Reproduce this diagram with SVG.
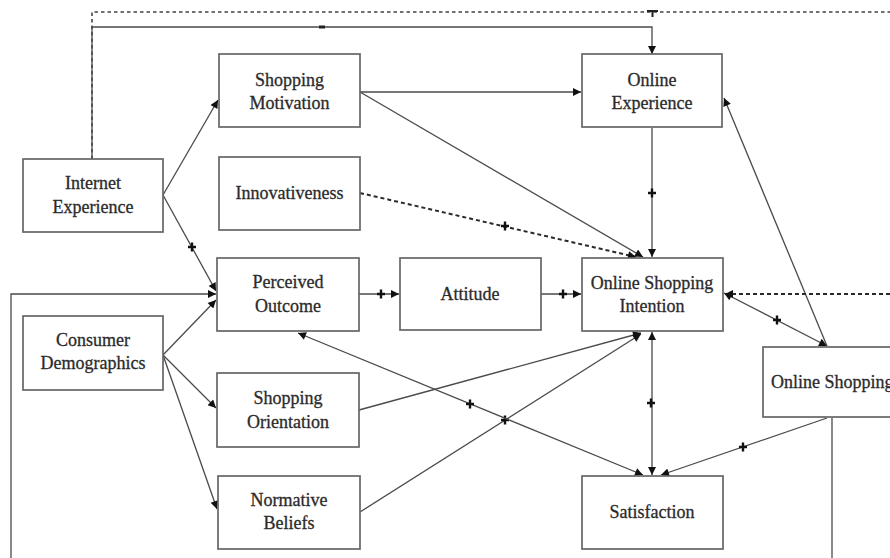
<svg xmlns="http://www.w3.org/2000/svg" xmlns:xlink="http://www.w3.org/1999/xlink" width="890" height="558" viewBox="0 0 890 558">
  <style>
    .box { fill: #ffffff; stroke: #666666; stroke-width: 1.7; }
    .lbl { font-family: "Liberation Serif", "Times New Roman", serif; font-size: 18px; fill: #2b2b2b; stroke: #2b2b2b; stroke-width: 0.3; text-anchor: middle; }
    .lbl-start { text-anchor: start; }
    .ln { fill: none; stroke: #4a4a4a; stroke-width: 1.3; }
    .dash { fill: none; stroke: #2a2a2a; stroke-width: 2; stroke-dasharray: 4 3; }
    .dash-thin { fill: none; stroke: #444444; stroke-width: 1.6; stroke-dasharray: 3.5 3; }
    .arr { marker-end: url(#head); }
    .arr2 { marker-start: url(#head); marker-end: url(#head); }
  </style>
  <defs>
    <marker id="head" viewBox="0 0 10 10" refX="10" refY="5" markerWidth="11" markerHeight="8" markerUnits="userSpaceOnUse" orient="auto-start-reverse">
      <path d="M0,0 L10,5 L0,10 z" fill="#111111"/>
    </marker>
    <path id="plus" d="M-4,0H4M0,-4.5V4.5" stroke="#111111" stroke-width="2.4" fill="none"/>
  </defs>

  <rect width="890" height="558" fill="#ffffff"/>

  <g id="connectors">
    <!-- feedback lines across the top -->
    <path class="dash-thin" d="M92,159 V12 H890"/>
    <path class="ln arr" d="M92,159 V27 H652 V54"/>
    <rect x="319" y="25.5" width="6" height="3" fill="#222"/>
    <path d="M647,11 H658 M652.5,11 V17" stroke="#222" stroke-width="2" fill="none"/>

    <!-- Shopping Motivation -->
    <path class="ln arr" d="M360,92 H581"/>
    <path class="ln arr" d="M360,92 L643,257"/>

    <!-- Innovativeness (dashed) -->
    <path class="dash arr" d="M360,193 L636,257"/>
    <use href="#plus" x="505" y="226"/>

    <!-- Online Experience to Intention -->
    <path class="ln arr" d="M652,128 V257"/>
    <use href="#plus" x="652" y="193"/>

    <!-- Internet Experience -->
    <path class="ln arr" d="M163,195 L218,100"/>
    <path class="ln arr" d="M163,195 L216,291"/>
    <use href="#plus" x="192" y="247"/>

    <!-- left loop into Perceived Outcome -->
    <path class="ln arr" d="M11,558 V294 H216"/>

    <!-- Consumer Demographics -->
    <path class="ln arr" d="M163,355 L216,300"/>
    <path class="ln arr" d="M163,355 L216,408"/>
    <path class="ln arr" d="M163,355 L217,509"/>

    <!-- middle row -->
    <path class="ln arr" d="M359,294 H399"/>
    <use href="#plus" x="381" y="294"/>
    <path class="ln arr" d="M541,294 H581"/>
    <use href="#plus" x="563" y="294"/>

    <!-- into Intention from below -->
    <path class="ln arr" d="M359,410 L641,333"/>
    <path class="ln arr" d="M360,512 L641,334"/>
    <use href="#plus" x="505" y="420"/>

    <!-- Perceived Outcome and Satisfaction -->
    <path class="ln arr2" d="M298,333 L643,475"/>
    <use href="#plus" x="470" y="404"/>

    <!-- Intention and Satisfaction -->
    <path class="ln arr2" d="M652,332 V475"/>
    <use href="#plus" x="651" y="403"/>

    <!-- Online Shopping links -->
    <path class="ln arr2" d="M724,293 L827,346"/>
    <use href="#plus" x="777" y="320"/>
    <path class="ln arr" d="M827,346 L724,98"/>
    <path class="dash arr" d="M890,294 H725"/>
    <path class="ln arr" d="M827,418 L661,475"/>
    <use href="#plus" x="743" y="447"/>
    <path class="ln" d="M832,418 V558"/>
  </g>

  <g id="shopping-motivation">
    <rect class="box" x="219" y="54" width="141" height="73"/>
    <text class="lbl" x="289.5" y="86">Shopping</text>
    <text class="lbl" x="289.5" y="109">Motivation</text>
  </g>

  <g id="online-experience">
    <rect class="box" x="582" y="54" width="140" height="73"/>
    <text class="lbl" x="652" y="86">Online</text>
    <text class="lbl" x="652" y="109">Experience</text>
  </g>

  <g id="internet-experience">
    <rect class="box" x="23" y="159" width="140" height="73"/>
    <text class="lbl" x="93" y="189">Internet</text>
    <text class="lbl" x="93" y="213">Experience</text>
  </g>

  <g id="innovativeness">
    <rect class="box" x="219" y="157" width="141" height="73"/>
    <text class="lbl" x="289.5" y="199">Innovativeness</text>
  </g>

  <g id="perceived-outcome">
    <rect class="box" x="217" y="258" width="142" height="73"/>
    <text class="lbl" x="288" y="288">Perceived</text>
    <text class="lbl" x="288" y="312">Outcome</text>
  </g>

  <g id="attitude">
    <rect class="box" x="400" y="258" width="141" height="72"/>
    <text class="lbl" x="470" y="300">Attitude</text>
  </g>

  <g id="online-shopping-intention">
    <rect class="box" x="582" y="258" width="141" height="73"/>
    <text class="lbl" x="652" y="289">Online Shopping</text>
    <text class="lbl" x="652" y="312">Intention</text>
  </g>

  <g id="consumer-demographics">
    <rect class="box" x="23" y="316" width="140" height="74"/>
    <text class="lbl" x="93" y="346">Consumer</text>
    <text class="lbl" x="93" y="369">Demographics</text>
  </g>

  <g id="shopping-orientation">
    <rect class="box" x="217" y="373" width="142" height="74"/>
    <text class="lbl" x="288" y="404">Shopping</text>
    <text class="lbl" x="288" y="428">Orientation</text>
  </g>

  <g id="normative-beliefs">
    <rect class="box" x="218" y="476" width="142" height="73"/>
    <text class="lbl" x="289" y="506">Normative</text>
    <text class="lbl" x="289" y="529">Beliefs</text>
  </g>

  <g id="satisfaction">
    <rect class="box" x="582" y="476" width="141" height="73"/>
    <text class="lbl" x="652" y="518">Satisfaction</text>
  </g>

  <g id="online-shopping">
    <!-- this box runs past the right edge of the canvas -->
    <rect class="box" x="763" y="347" width="140" height="70"/>
    <text class="lbl lbl-start" x="771" y="388">Online Shopping</text>
  </g>
</svg>
